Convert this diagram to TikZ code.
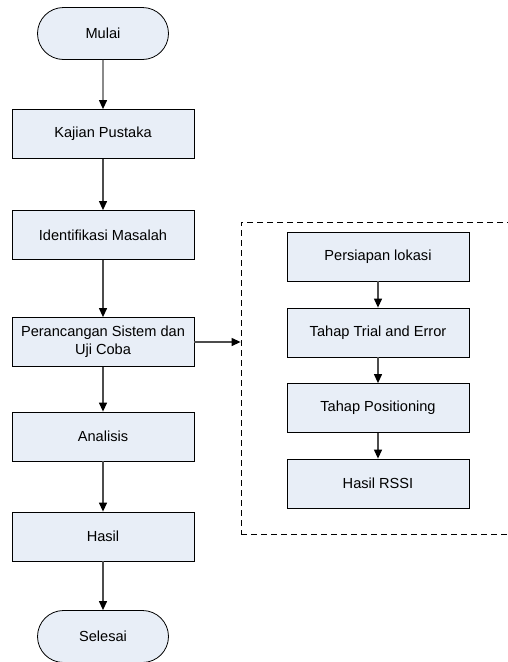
\documentclass[tikz,border=0pt]{standalone}
\usepackage{fontspec}
\setmainfont{Liberation Sans}
\usetikzlibrary{arrows.meta,shapes.misc}
\definecolor{boxfill}{RGB}{232,238,247}
\begin{document}
\begin{tikzpicture}[x=1pt,y=-1pt,
  proses/.style={draw,fill=boxfill,line width=0.8pt,minimum width=182pt,minimum height=49pt,inner sep=0pt,align=center,font=\fontsize{14.6}{18}\selectfont},
  terminal/.style={proses,rounded rectangle,minimum width=131pt,minimum height=52pt},
  panah/.style={draw=black!70,line width=1.2pt,-{Triangle[length=9pt,width=8pt,color=black]}}]
\clip (0,0) rectangle (508,662);
\node[terminal] (mulai) at (103,33.5) {Mulai};
\node[proses] (kajian) at (103,134) {Kajian Pustaka};
\node[proses] (identifikasi) at (103,235) {Identifikasi Masalah};
\node[proses] (perancangan) at (103,342) {Perancangan Sistem dan\\Uji Coba};
\node[proses] (analisis) at (103,436.5) {Analisis};
\node[proses] (hasil) at (103,536.5) {Hasil};
\node[terminal] (selesai) at (103,636.5) {Selesai};
% rincian uji coba
\node[draw,dash pattern=on 6pt off 4pt,line width=0.8pt,minimum width=290pt,minimum height=312pt,inner sep=0pt] (grup) at (386,378) {};
\node[proses] (persiapan) at (378,256.5) {Persiapan lokasi};
\node[proses] (trial) at (378,332.5) {Tahap Trial and Error};
\node[proses] (positioning) at (378,408) {Tahap Positioning};
\node[proses] (rssi) at (378,483.5) {Hasil RSSI};
\draw[panah] (mulai) -- (kajian);
\draw[panah] (kajian) -- (identifikasi);
\draw[panah] (identifikasi) -- (perancangan);
\draw[panah] (perancangan) -- (analisis);
\draw[panah] (analisis) -- (hasil);
\draw[panah] (hasil) -- (selesai);
\draw[panah] (perancangan.east) -- (perancangan.east -| grup.west);
\draw[panah] (persiapan) -- (trial);
\draw[panah] (trial) -- (positioning);
\draw[panah] (positioning) -- (rssi);
\end{tikzpicture}
\end{document}
